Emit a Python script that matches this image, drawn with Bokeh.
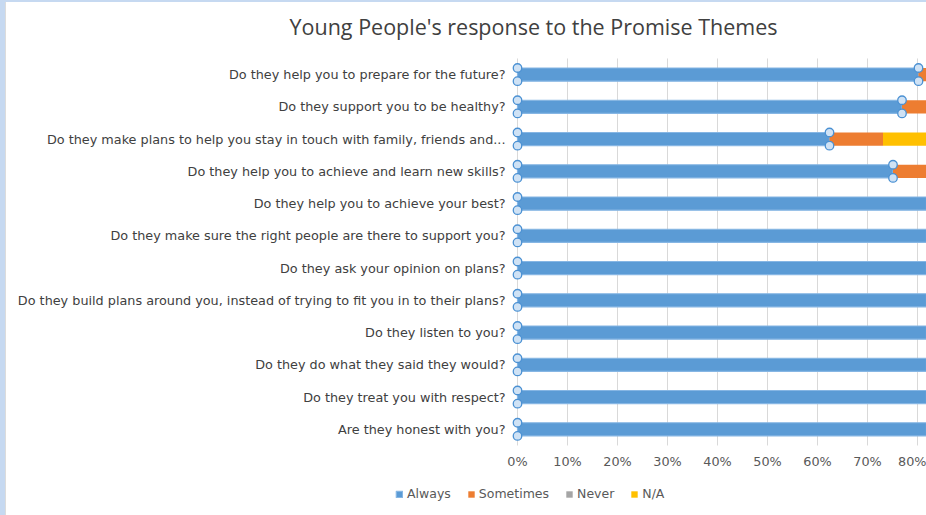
from bokeh.plotting import figure
from bokeh.models import (Range1d, FixedTicker, NumeralTickFormatter, LinearAxis,
                          Legend, LegendItem, Label, Spacer, ColumnDataSource)
from bokeh.layouts import column, row
from bokeh.embed import file_html
from bokeh.resources import INLINE

# ---- data ----
questions = [
    "Do they help you to prepare for the future?",
    "Do they support you to be healthy?",
    "Do they make plans to help you stay in touch with family, friends and...",
    "Do they help you to achieve and learn new skills?",
    "Do they help you to achieve your best?",
    "Do they make sure the right people are there to support you?",
    "Do they ask your opinion on plans?",
    "Do they build plans around you, instead of trying to fit you in to their plans?",
    "Do they listen to you?",
    "Do they do what they said they would?",
    "Do they treat you with respect?",
    "Are they honest with you?",
]
always = [0.802, 0.769, 0.624, 0.751, 1.0, 1.0, 1.0, 1.0, 1.0, 1.0, 1.0, 1.0]
sometimes = [0.198, 0.231, 0.107, 0.249, 0.0, 0.0, 0.0, 0.0, 0.0, 0.0, 0.0, 0.0]
never = [0.0] * 12
na = [0.0, 0.0, 0.269, 0.0, 0.0, 0.0, 0.0, 0.0, 0.0, 0.0, 0.0, 0.0]
series = ["Always", "Sometimes", "Never", "N/A"]
colors = ["#5B9BD5", "#ED7D31", "#A5A5A5", "#FFC000"]
x_ticks = [0.0, 0.1, 0.2, 0.3, 0.4, 0.5, 0.6, 0.7, 0.8, 0.9, 1.0]
title_text = "Young People's response to the Promise Themes"

FONT = "DejaVu Sans"
FS = "12.8px"
BH = 0.41
W, H = 920, 513

n = len(questions)
idx = list(range(n))  # row position of each question, top to bottom
src = ColumnDataSource(dict(idx=idx, Always=always, Sometimes=sometimes,
                            Never=never, **{"N/A": na}))

# frame fills the whole canvas; rows run downwards
p = figure(width=W, height=H, output_backend="svg", toolbar_location=None,
           x_range=Range1d(-1.022, 0.818), y_range=Range1d(13.671, -2.236),
           x_axis_location=None, y_axis_location=None, min_border=0)
p.outline_line_color = None
p.grid.visible = False

# vertical grid lines across the band of rows
p.segment(x0=x_ticks, x1=x_ticks, y0=[-0.5] * len(x_ticks),
          y1=[n - 0.5] * len(x_ticks), line_color="#d9d9d9", line_width=1)

rs = p.hbar_stack(series, y="idx", height=BH, color=colors, source=src, line_width=0)
rs[0].glyph.line_color = "#86b6e4"
rs[0].glyph.line_width = 1.2

# selection handles at both ends of the "Always" bars
for off in (-BH / 2, BH / 2):
    xs, ys = [], []
    for i, a in zip(idx, always):
        xs += [0.0, a]
        ys += [i + off, i + off]
    p.scatter(x=xs, y=ys, size=8.5, fill_color="#cfe2f5",
              line_color="#4b91d3", line_width=1.3)

# axes drawn at the edges of the row band
xaxis = LinearAxis(fixed_location=n - 0.5, ticker=FixedTicker(ticks=x_ticks),
                   formatter=NumeralTickFormatter(format="0%"))
yaxis = LinearAxis(fixed_location=0.0, ticker=FixedTicker(ticks=idx),
                   major_label_overrides={i: q for i, q in zip(idx, questions)})
for ax in (xaxis, yaxis):
    ax.axis_line_color = None
    ax.major_tick_line_color = None
    ax.minor_tick_line_color = None
    ax.major_tick_out = 0
    ax.major_tick_in = 0
    ax.minor_tick_out = 0
    ax.major_label_text_font = FONT
    ax.major_label_text_font_size = FS
xaxis.major_label_text_color = "#595959"
yaxis.major_label_text_color = "#404040"
xaxis.major_label_standoff = 9
yaxis.major_label_standoff = 12
p.add_layout(xaxis, "below")
p.add_layout(yaxis, "left")

# title
p.add_layout(Label(x=0.032, y=-1.49, text=title_text, text_align="center",
                   text_baseline="middle", text_font="Open Sans",
                   text_font_size="21.5px", text_color="#404040"))

# legend
legend = Legend(items=[LegendItem(label=s, renderers=[r]) for s, r in zip(series, rs)],
                orientation="horizontal", location=(389, 14),
                glyph_width=8, glyph_height=8, label_standoff=4, spacing=16,
                padding=0, margin=0, label_height=14,
                border_line_color=None, background_fill_alpha=0,
                label_text_font=FONT, label_text_font_size="12.5px",
                label_text_color="#595959")
p.add_layout(legend, "center")

top = Spacer(width=926, height=2, styles={"background-color": "#c6d9f1"})
left = Spacer(width=6, height=H, styles={"background-color": "#c6d9f1",
                                         "border-right": "1px solid #dcdcdc"})
layout = column(top, row(left, p, spacing=0), spacing=0)

open("out.html", "w").write(file_html(layout, INLINE))
